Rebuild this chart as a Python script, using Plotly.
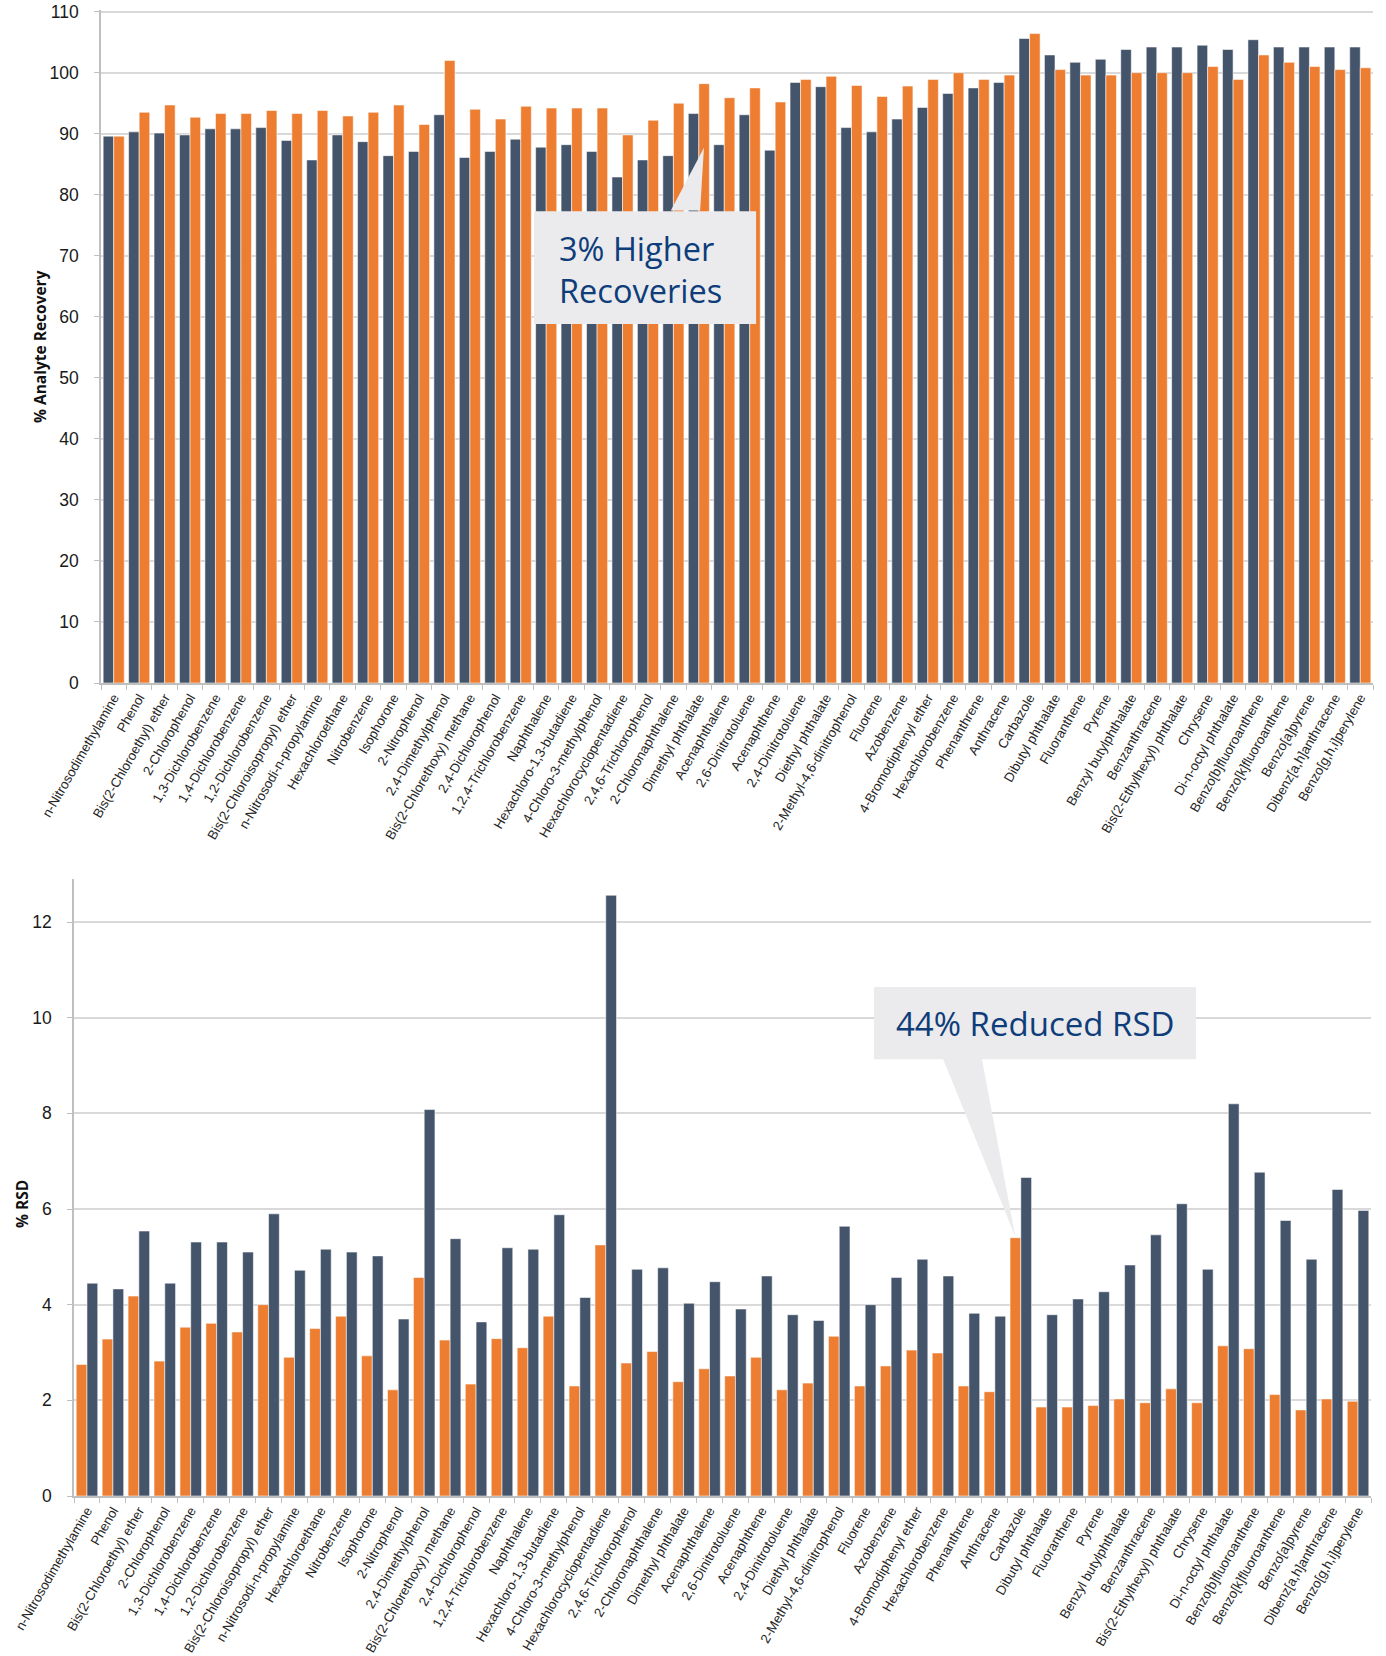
import plotly.graph_objects as go

compounds = [
    "n-Nitrosodimethylamine", "Phenol", "Bis(2-Chloroethyl) ether", "2-Chlorophenol",
    "1,3-Dichlorobenzene", "1,4-Dichlorobenzene", "1,2-Dichlorobenzene",
    "Bis(2-Chloroisopropyl) ether", "n-Nitrosodi-n-propylamine", "Hexachloroethane",
    "Nitrobenzene", "Isophorone", "2-Nitrophenol", "2,4-Dimethylphenol",
    "Bis(2-Chlorethoxy) methane", "2,4-Dichlorophenol", "1,2,4-Trichlorobenzene",
    "Naphthalene", "Hexachloro-1,3-butadiene", "4-Chloro-3-methylphenol",
    "Hexachlorocyclopentadiene", "2,4,6-Trichlorophenol", "2-Chloronaphthalene",
    "Dimethyl phthalate", "Acenaphthalene", "2,6-Dinitrotoluene", "Acenaphthene",
    "2,4-Dinitrotoluene", "Diethyl phthalate", "2-Methyl-4,6-dinitrophenol",
    "Fluorene", "Azobenzene", "4-Bromodiphenyl ether", "Hexachlorobenzene",
    "Phenanthrene", "Anthracene", "Carbazole", "Dibutyl phthalate", "Fluoranthene",
    "Pyrene", "Benzyl butylphthalate", "Benzanthracene", "Bis(2-Ethylhexyl) phthalate",
    "Chrysene", "Di-n-octyl phthalate", "Benzo[b]fluoroanthene", "Benzo[k]fluoroanthene",
    "Benzo[a]pyrene", "Dibenz[a,h]anthracene", "Benzo[g,h,i]perylene",
]

recovery_dark = [
    89.6, 90.3, 90.1, 89.8, 90.8, 90.8, 91.0, 88.9, 85.7, 89.8,
    88.7, 86.4, 87.1, 93.1, 86.1, 87.1, 89.1, 87.8, 88.2, 87.1,
    82.9, 85.7, 86.4, 93.3, 88.2, 93.1, 87.3, 98.4, 97.7, 91.0,
    90.3, 92.4, 94.3, 96.6, 97.5, 98.4, 105.6, 102.9, 101.7, 102.2,
    103.8, 104.2, 104.2, 104.5, 103.8, 105.4, 104.2, 104.2, 104.2, 104.2,
]
recovery_orange = [
    89.6, 93.5, 94.7, 92.7, 93.3, 93.3, 93.8, 93.3, 93.8, 92.9,
    93.5, 94.7, 91.5, 102.0, 94.0, 92.4, 94.5, 94.2, 94.2, 94.2,
    89.8, 92.2, 95.0, 98.2, 95.9, 97.5, 95.2, 98.9, 99.4, 97.9,
    96.1, 97.8, 98.9, 100.0, 98.9, 99.6, 106.4, 100.5, 99.6, 99.6,
    100.0, 100.0, 100.0, 101.0, 98.9, 102.9, 101.7, 101.0, 100.5, 100.8,
]

rsd_orange = [
    2.75, 3.28, 4.18, 2.82, 3.53, 3.61, 3.43, 4.00, 2.90, 3.50,
    3.76, 2.93, 2.22, 4.57, 3.26, 2.34, 3.29, 3.10, 3.76, 2.30,
    5.25, 2.78, 3.02, 2.39, 2.66, 2.51, 2.90, 2.22, 2.36, 3.34,
    2.30, 2.72, 3.05, 2.99, 2.30, 2.18, 5.40, 1.86, 1.86, 1.89,
    2.03, 1.95, 2.24, 1.95, 3.14, 3.08, 2.12, 1.80, 2.03, 1.98,
]
rsd_dark = [
    4.45, 4.33, 5.54, 4.45, 5.31, 5.31, 5.10, 5.90, 4.72, 5.16,
    5.10, 5.02, 3.70, 8.08, 5.38, 3.64, 5.19, 5.16, 5.88, 4.15,
    12.56, 4.74, 4.77, 4.03, 4.48, 3.91, 4.60, 3.79, 3.67, 5.64,
    4.00, 4.57, 4.95, 4.60, 3.82, 3.76, 6.66, 3.79, 4.12, 4.27,
    4.83, 5.46, 6.11, 4.74, 8.20, 6.77, 5.76, 4.95, 6.41, 5.97,
]

recovery_ticks = list(range(0, 111, 10))
rsd_ticks = list(range(0, 13, 2))

DARK = "#44546A"
ORANGE = "#ED7D31"
GRID = "#D9D9D9"
AXIS = "#BFBFBF"
CALLOUT_FILL = "#EBEBED"
CALLOUT_TEXT = "#0E3D7A"

W, H = 1386, 1656


def fx(p):
    return p / W


def fy(p):
    return 1 - p / H


edge = dict(color="rgba(255,255,255,0.55)", width=1)

fig = go.Figure()
fig.add_trace(go.Bar(x=compounds, y=recovery_dark, marker=dict(color=DARK, line=edge),
                     xaxis="x", yaxis="y", showlegend=False))
fig.add_trace(go.Bar(x=compounds, y=recovery_orange, marker=dict(color=ORANGE, line=edge),
                     xaxis="x", yaxis="y", showlegend=False))
fig.add_trace(go.Bar(x=compounds, y=rsd_orange, marker=dict(color=ORANGE, line=edge),
                     xaxis="x2", yaxis="y2", showlegend=False))
fig.add_trace(go.Bar(x=compounds, y=rsd_dark, marker=dict(color=DARK, line=edge),
                     xaxis="x2", yaxis="y2", showlegend=False))

xcommon = dict(
    type="category", range=[-0.5, len(compounds) - 0.5], tickangle=-60,
    tickfont=dict(family="Liberation Sans", size=13.3, color="#262626"),
    showline=True, linecolor=AXIS, linewidth=1.5, ticks="outside", tickson="boundaries",
    ticklen=5, tickcolor=AXIS, showgrid=False, automargin=False, fixedrange=True,
    ticklabeloverflow="allow",
)
ycommon = dict(
    showline=True, linecolor=AXIS, linewidth=1.5, ticks="outside", ticklen=5,
    tickcolor=AXIS, gridcolor=GRID, gridwidth=1.5, zeroline=False,
    tickfont=dict(family="Liberation Sans", size=17.5, color="#1a1a1a"), automargin=False,
    ticklabelstandoff=12, ticklabeloverflow="allow",
)

fig.update_layout(
    width=W, height=H, margin=dict(l=0, r=0, t=0, b=0),
    paper_bgcolor="white", plot_bgcolor="white",
    barmode="group", bargap=0.17, bargroupgap=0,
    xaxis=dict(xcommon, domain=[fx(101), fx(1373)], anchor="y"),
    yaxis=dict(ycommon, domain=[fy(683), fy(9.8)], range=[0, 110.3], tickvals=recovery_ticks,
               anchor="x"),
    xaxis2=dict(xcommon, domain=[fx(74), fx(1371)], anchor="y2"),
    yaxis2=dict(ycommon, domain=[fy(1496), fy(879)], range=[0, 12.9], tickvals=rsd_ticks,
                anchor="x2"),
)

# axis titles
fig.add_annotation(text="<b>% Analyte Recovery</b>", textangle=-90, xref="paper", yref="paper",
                   x=fx(40), y=fy(347), xanchor="center", yanchor="middle", showarrow=False,
                   font=dict(family="Open Sans", size=15.5, color="#111111"))
fig.add_annotation(text="<b>% RSD</b>", textangle=-90, xref="paper", yref="paper",
                   x=fx(22), y=fy(1204), xanchor="center", yanchor="middle", showarrow=False,
                   font=dict(family="Open Sans", size=15.5, color="#111111"))

# callout 1 (top chart) in data coordinates
fig.add_shape(type="rect", xref="x", yref="y", x0=16.52, x1=25.25, y0=58.8, y1=77.3,
              fillcolor=CALLOUT_FILL, line=dict(width=0), layer="above")
fig.add_shape(type="path", xref="x", yref="y",
              path="M 21.9 77.4 L 23.2 87.7 L 23.05 77.4 Z",
              fillcolor=CALLOUT_FILL, line=dict(width=0), layer="above")
fig.add_annotation(text="3% Higher<br>Recoveries", xref="x", yref="y", x=17.42, y=67.8,
                   xanchor="left", yanchor="middle", align="left", showarrow=False,
                   font=dict(family="Open Sans", size=32.5, color=CALLOUT_TEXT))

# callout 2 (bottom chart)
fig.add_shape(type="rect", xref="x2", yref="y2", x0=30.34, x1=42.75, y0=9.13, y1=10.64,
              fillcolor=CALLOUT_FILL, line=dict(width=0), layer="above")
fig.add_shape(type="path", xref="x2", yref="y2",
              path="M 33.0 9.14 L 35.79 5.42 L 34.5 9.14 Z",
              fillcolor=CALLOUT_FILL, line=dict(width=0), layer="above")
fig.add_annotation(text="44% Reduced RSD", xref="x2", yref="y2", x=36.55, y=9.88,
                   xanchor="center", yanchor="middle", showarrow=False,
                   font=dict(family="Open Sans", size=33, color=CALLOUT_TEXT))

fig.write_html(
    "out.html",
    config={"displayModeBar": False},
    post_script="document.body.style.margin='0';document.body.style.padding='0';"
                "document.body.style.overflow='hidden';",
)
